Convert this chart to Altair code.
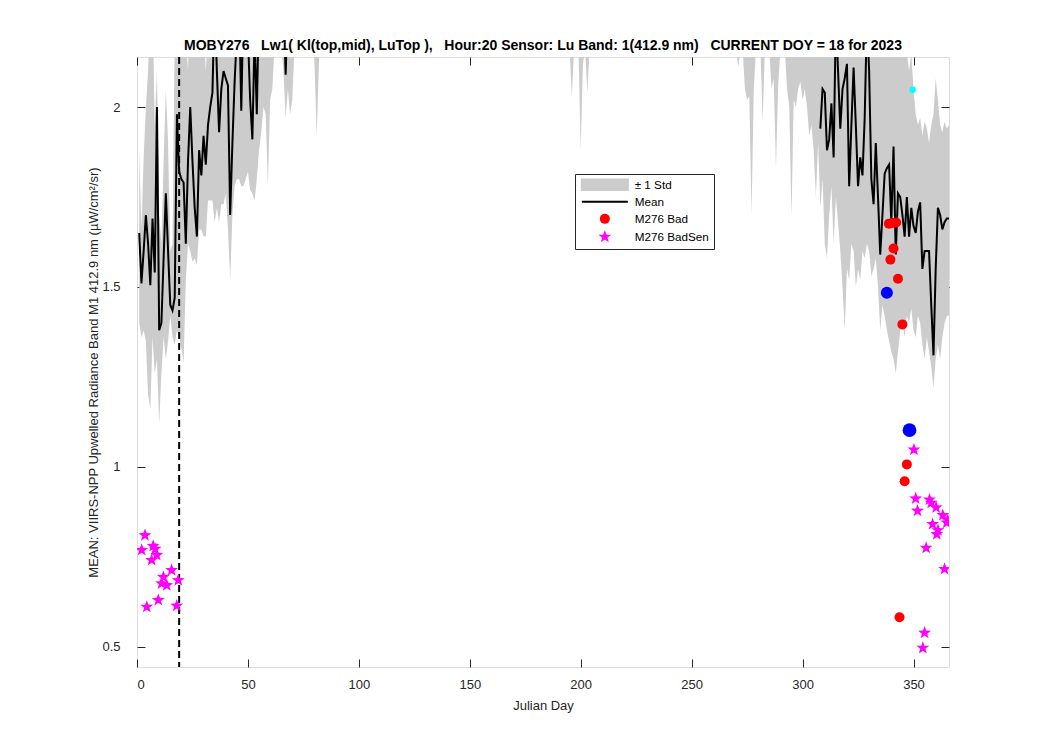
import math
import altair as alt
import pandas as pd

# ---------------- data ----------------
x_ticks = [0, 50, 100, 150, 200, 250, 300, 350]
y_ticks = [0.5, 1.0, 1.5, 2.0]
current_doy_line = [19]

# mean line, early-year segment (days 1..68)
mean_early_days = list(range(1, 69))
mean_early_vals = [1.65, 1.51, 1.60, 1.70, 1.62, 1.505, 1.69, 1.54, 2.00, 1.38,
                   1.40, 1.58, 1.76, 1.60, 1.45, 1.435, 1.47, 1.98, 1.82, 1.80,
                   1.79, 1.62, 1.85, 2.00, 1.85, 1.72, 1.64, 1.88, 1.81, 1.92,
                   1.84, 1.95, 2.00, 2.04, 2.30, 2.10, 1.93, 2.05, 2.10, 2.08,
                   2.06, 1.70, 1.90, 2.07, 2.20, 2.30, 1.99, 2.30, 2.25, 2.20,
                   2.02, 1.91, 2.20, 1.98, 2.30, 2.35, 2.35, 2.35, 2.35, 2.35,
                   2.35, 2.35, 2.35, 2.35, 2.30, 2.30, 2.09, 2.30]
# mean line, late-year segment (days 308..366)
mean_late_days = list(range(308, 367))
mean_late_vals = [1.94, 2.05, 2.04, 1.88, 1.91, 2.01, 1.86, 2.25, 2.10, 1.94,
                  2.05, 2.08, 2.12, 1.78, 1.95, 2.11, 1.95, 1.78, 1.86, 1.81,
                  1.97, 2.25, 2.10, 1.80, 1.73, 1.90, 1.75, 1.59, 1.70, 1.815,
                  1.83, 1.84, 1.68, 1.89, 1.59, 1.76, 1.75, 1.70, 1.64, 1.75,
                  1.64, 1.72, 1.67, 1.65, 1.71, 1.735, 1.55, 1.60, 1.60, 1.60,
                  1.45, 1.31, 1.55, 1.72, 1.70, 1.66, 1.68, 1.69, 1.69]

# +/- 1 std band edges, early segment (days 1..71)
band_early_days = list(range(1, 72))
band_early_lo = [1.40, 1.36, 1.38, 1.35, 1.20, 1.16, 1.36, 1.26, 1.30, 1.12,
                 1.26, 1.36, 1.30, 1.35, 1.42, 1.36, 1.34, 1.38, 1.36, 1.33,
                 1.29, 1.52, 1.62, 1.60, 1.57, 1.58, 1.56, 1.66, 1.66, 1.64,
                 1.64, 1.74, 1.74, 1.74, 1.68, 1.72, 1.68, 1.73, 1.73, 1.76,
                 1.66, 1.52, 1.70, 1.78, 1.80, 1.80, 1.78, 1.78, 1.80, 1.82,
                 1.77, 1.76, 1.74, 1.80, 1.88, 1.93, 2.00, 1.98, 1.78, 2.02,
                 2.05, 2.17, 2.30, 2.30, 2.17, 2.10, 1.97, 2.05, 1.98, 2.02,
                 2.17]
band_early_hi = [1.88, 1.66, 1.86, 2.00, 2.10, 2.30, 2.30, 1.95, 2.10, 1.70,
                 1.62, 1.85, 2.05, 1.90, 1.60, 1.62, 2.20, 2.40, 2.30, 2.30,
                 2.30, 2.20, 2.10, 2.40, 2.15, 2.20, 2.15, 2.15, 2.20, 2.25,
                 2.10, 2.20, 2.30, 2.35, 2.60, 2.50, 2.20, 2.40, 2.45, 2.40,
                 2.45, 2.20, 2.15, 2.40, 2.60, 2.80, 2.25, 2.80, 2.70, 2.60,
                 2.30, 2.25, 2.70, 2.20, 2.70, 2.80, 2.70, 2.80, 2.90, 2.70,
                 2.70, 2.70, 2.70, 2.70, 2.70, 2.70, 2.60, 2.60, 2.60, 2.60,
                 2.50]
# sparse mid-year spikes of the band
band_mid_days = [79, 80, 81, 82, 83, 194, 195, 196, 197, 198, 199, 200, 201, 202, 203, 204, 205]
band_mid_lo = [2.30, 2.12, 1.92, 2.12, 2.30, 2.30, 2.16, 2.03, 2.16, 2.30,
               2.16, 1.88, 2.12, 2.16, 2.04, 2.16, 2.30]
band_mid_hi = [2.50, 2.50, 2.50, 2.50, 2.50, 2.50, 2.50, 2.50, 2.50, 2.50,
               2.50, 2.50, 2.50, 2.50, 2.50, 2.50, 2.50]
# late segment (days 269..366)
band_late_days = list(range(269, 367))
band_late_lo = [2.30, 2.16, 2.11, 2.16, 2.16, 2.05, 2.02, 2.03, 1.70, 2.05,
                2.16, 2.30, 2.16, 1.96, 2.16, 2.30, 2.16, 2.05, 2.08, 1.83,
                2.06, 2.16, 2.30, 2.16, 2.05, 2.00, 1.69, 2.02, 2.00, 2.05,
                2.07, 2.02, 2.05, 2.00, 1.92, 1.95, 1.88, 1.75, 1.90, 1.72,
                1.80, 1.62, 1.58, 1.70, 1.78, 1.62, 1.75, 1.68, 1.60, 1.50,
                1.38, 1.55, 1.52, 1.62, 1.60, 1.50, 1.55, 1.52, 1.60, 1.58,
                1.62, 1.60, 1.53, 1.55, 1.58, 1.50, 1.38, 1.45, 1.42, 1.38,
                1.35, 1.32, 1.30, 1.26, 1.32, 1.38, 1.40, 1.36, 1.42, 1.40,
                1.44, 1.38, 1.36, 1.42, 1.40, 1.34, 1.30, 1.36, 1.32, 1.28,
                1.22, 1.30, 1.34, 1.30, 1.36, 1.40, 1.42, 1.42]
band_late_hi = [2.50, 2.50, 2.50, 2.50, 2.50, 2.50, 2.50, 2.50, 2.50, 2.50,
                2.50, 2.50, 2.50, 2.50, 2.50, 2.50, 2.50, 2.50, 2.50, 2.50,
                2.50, 2.50, 2.50, 2.50, 2.50, 2.50, 2.50, 2.50, 2.50, 2.50,
                2.50, 2.50, 2.50, 2.50, 2.50, 2.50, 2.50, 2.50, 2.50, 2.50,
                2.50, 2.50, 2.50, 2.50, 2.50, 2.50, 2.50, 2.50, 2.50, 2.50,
                2.50, 2.50, 2.50, 2.50, 2.50, 2.50, 2.50, 2.50, 2.50, 2.50,
                2.50, 2.50, 2.50, 2.50, 2.50, 2.50, 2.50, 2.50, 2.50, 2.50,
                2.50, 2.50, 2.50, 2.50, 2.50, 2.50, 2.25, 2.20, 2.15, 2.10,
                2.15, 2.05, 1.98, 1.95, 1.97, 1.92, 1.96, 1.94, 1.90, 1.95,
                1.98, 2.08, 2.02, 1.95, 1.93, 1.96, 1.94, 1.95]

# flagged points
bad_days = [338.9, 340.5, 342.2, 341.0, 339.6, 343.0, 345.0, 347.0, 346.0, 343.7]
bad_vals = [1.676, 1.678, 1.679, 1.607, 1.576, 1.523, 1.396, 1.007, 0.960, 0.582]
badsen_days = [3.6, 2.1, 7.3, 6.6, 8.9, 8.2, 15.6, 11.9, 11.1, 13.4, 18.6, 9.6, 4.4, 17.9,
               350.2, 351.0, 351.8, 357.2, 358.0, 360.2, 363.2, 365.4, 358.6, 361.0,
               360.5, 355.7, 364.0, 355.0, 354.2, 365.0]
badsen_vals = [0.810, 0.769, 0.780, 0.741, 0.755, 0.772, 0.713, 0.694, 0.676, 0.671, 0.685,
               0.630, 0.611, 0.614,
               1.048, 0.912, 0.878, 0.909, 0.900, 0.887, 0.866, 0.852, 0.841, 0.824,
               0.813, 0.775, 0.716, 0.539, 0.497, 0.845]
blue_small_days = [338.0]
blue_small_vals = [1.484]
blue_big_days = [348.2]
blue_big_vals = [1.102]
cyan_days = [349.6]
cyan_vals = [2.048]

legend_names = ["\u00b1 1 Std", "Mean", "M276 Bad", "M276 BadSen"]
legend_colors = ["#cccccc", "#000000", "#ff0000", "#ff00ff"]

TITLE = ("MOBY276\u00a0\u00a0 Lw1( Kl(top,mid), LuTop ),\u00a0\u00a0 Hour:20 Sensor: Lu Band: "
         "1(412.9 nm)\u00a0\u00a0 CURRENT DOY = 18 for 2023")
Y_TITLE = "MEAN: VIIRS-NPP Upwelled Radiance Band M1 412.9 nm (\u00b5W/cm\u00b2/sr)"

# ---------------- tables ----------------
band_df = pd.DataFrame({
    "day": band_early_days + band_mid_days + band_late_days,
    "lo": band_early_lo + band_mid_lo + band_late_lo,
    "hi": band_early_hi + band_mid_hi + band_late_hi,
})
mean_df = pd.DataFrame({
    "day": mean_early_days + mean_late_days,
    "mean": mean_early_vals + mean_late_vals,
    "seg": ["early"] * len(mean_early_days) + ["late"] * len(mean_late_days),
})
pts_df = pd.DataFrame({
    "day": bad_days + badsen_days,
    "val": bad_vals + badsen_vals,
    "series": ["M276 Bad"] * len(bad_days) + ["M276 BadSen"] * len(badsen_days),
})
doy_df = pd.DataFrame({"day": current_doy_line})
blue_s_df = pd.DataFrame({"day": blue_small_days, "val": blue_small_vals})
blue_b_df = pd.DataFrame({"day": blue_big_days, "val": blue_big_vals})
cyan_df = pd.DataFrame({"day": cyan_days, "val": cyan_vals})

# ---------------- symbol shapes ----------------
def star_path(R=1.35, r=0.55):
    pts = []
    for i in range(10):
        ang = -math.pi / 2 + i * math.pi / 5
        rad = R if i % 2 == 0 else r
        pts.append((rad * math.cos(ang), rad * math.sin(ang)))
    return "M" + "L".join(f"{px:.3f},{py:.3f}" for px, py in pts) + "Z"

STD_PATH = "M-4.8,-1.25H4.8V1.25H-4.8Z"
MEAN_PATH = "M-4.6,-0.2H4.6V0.2H-4.6Z"
legend_shapes = [STD_PATH, MEAN_PATH, "circle", star_path()]

# ---------------- styling ----------------
FONT = "Liberation Sans"
AX = "#262626"
x_scale = alt.Scale(domain=[0, 366], nice=False, zero=False)
y_scale = alt.Scale(domain=[0.444, 2.139], nice=False, zero=False)

x_axis_bottom = alt.Axis(values=x_ticks, orient="bottom", offset=-8, tickSize=8, domain=False,
                         grid=False, tickColor=AX, labelColor=AX, labelFont=FONT, labelFontSize=13,
                         labelPadding=11, title="Julian Day", titleFont=FONT, titleFontSize=13,
                         titleFontWeight="normal", titleColor=AX, titleX=406, titleY=46,
                         titleBaseline="middle", titleAlign="center")
y_axis_left = alt.Axis(values=y_ticks, orient="left", offset=-8, tickSize=8, domain=False,
                       grid=False, tickColor=AX, labelColor=AX, labelFont=FONT, labelFontSize=13,
                       labelPadding=17, labelExpr="'' + datum.value", title=Y_TITLE,
                       titleFont=FONT, titleFontSize=13, titleFontWeight="normal", titleColor=AX,
                       titleX=-52, titleY=315, titleAngle=270, titleBaseline="middle",
                       titleAlign="center")
x_axis_top = alt.Axis(values=x_ticks, orient="top", offset=-8, tickSize=8, domain=False,
                      grid=False, tickColor=AX, labels=False, title=None)
y_axis_right = alt.Axis(values=y_ticks, orient="right", offset=-8, tickSize=8, domain=False,
                        grid=False, tickColor=AX, labels=False, title=None)

legend = alt.Legend(title=None, orient="none", legendX=438, legendY=117,
                    strokeColor=AX, fillColor="white", padding=5, cornerRadius=0,
                    symbolSize=100, symbolStrokeWidth=0, symbolOffset=19, labelOffset=24,
                    labelFont=FONT, labelFontSize=11.7, labelColor="black", rowPadding=4,
                    symbolOpacity=1)

band = alt.Chart(band_df).mark_area(color="#cccccc", opacity=1, clip=True).encode(
    x=alt.X("day:Q", scale=x_scale, axis=x_axis_bottom),
    y=alt.Y("lo:Q", scale=y_scale, axis=y_axis_left),
    y2="hi:Q",
)
mean_line = alt.Chart(mean_df).mark_line(color="black", strokeWidth=2, clip=True).encode(
    x=alt.X("day:Q", scale=x_scale, axis=x_axis_top),
    y=alt.Y("mean:Q", scale=y_scale, axis=y_axis_right),
    detail="seg:N",
)
doy_rule = alt.Chart(doy_df).mark_rule(color="black", strokeWidth=2, strokeDash=[7, 4]).encode(
    x=alt.X("day:Q", scale=x_scale, axis=None),
)
points = alt.Chart(pts_df).mark_point(filled=True, size=100, opacity=1, strokeWidth=0,
                                      clip=True).encode(
    x=alt.X("day:Q", scale=x_scale, axis=None),
    y=alt.Y("val:Q", scale=y_scale, axis=None),
    color=alt.Color("series:N", scale=alt.Scale(domain=legend_names, range=legend_colors),
                    legend=legend),
    shape=alt.Shape("series:N", scale=alt.Scale(domain=legend_names, range=legend_shapes),
                    legend=legend),
)
blue_s = alt.Chart(blue_s_df).mark_circle(color="#0000ff", size=145, opacity=1).encode(
    x=alt.X("day:Q", scale=x_scale, axis=None),
    y=alt.Y("val:Q", scale=y_scale, axis=None),
)
blue_b = alt.Chart(blue_b_df).mark_circle(color="#0000ff", size=190, opacity=1).encode(
    x=alt.X("day:Q", scale=x_scale, axis=None),
    y=alt.Y("val:Q", scale=y_scale, axis=None),
)
cyan = alt.Chart(cyan_df).mark_circle(color="#00ffff", size=42, opacity=1).encode(
    x=alt.X("day:Q", scale=x_scale, axis=None),
    y=alt.Y("val:Q", scale=y_scale, axis=None),
)

chart = alt.layer(band, mean_line, doy_rule, points, blue_s, blue_b, cyan).resolve_axis(
    x="independent", y="independent"
).properties(
    width=812, height=610,
    autosize=alt.AutoSizeParams(type="none"),
    padding={"left": 129, "top": 49, "right": 93, "bottom": 75},
    title=alt.TitleParams(TITLE, font="Liberation Sans Narrow, Liberation Sans, Arial",
                          fontSize=14, fontWeight="bold", color="black", anchor="middle",
                          offset=3),
).configure_view(stroke=AX, strokeWidth=1).configure(background="white")

chart.save("out.html", embed_options={"renderer": "svg", "actions": False})
